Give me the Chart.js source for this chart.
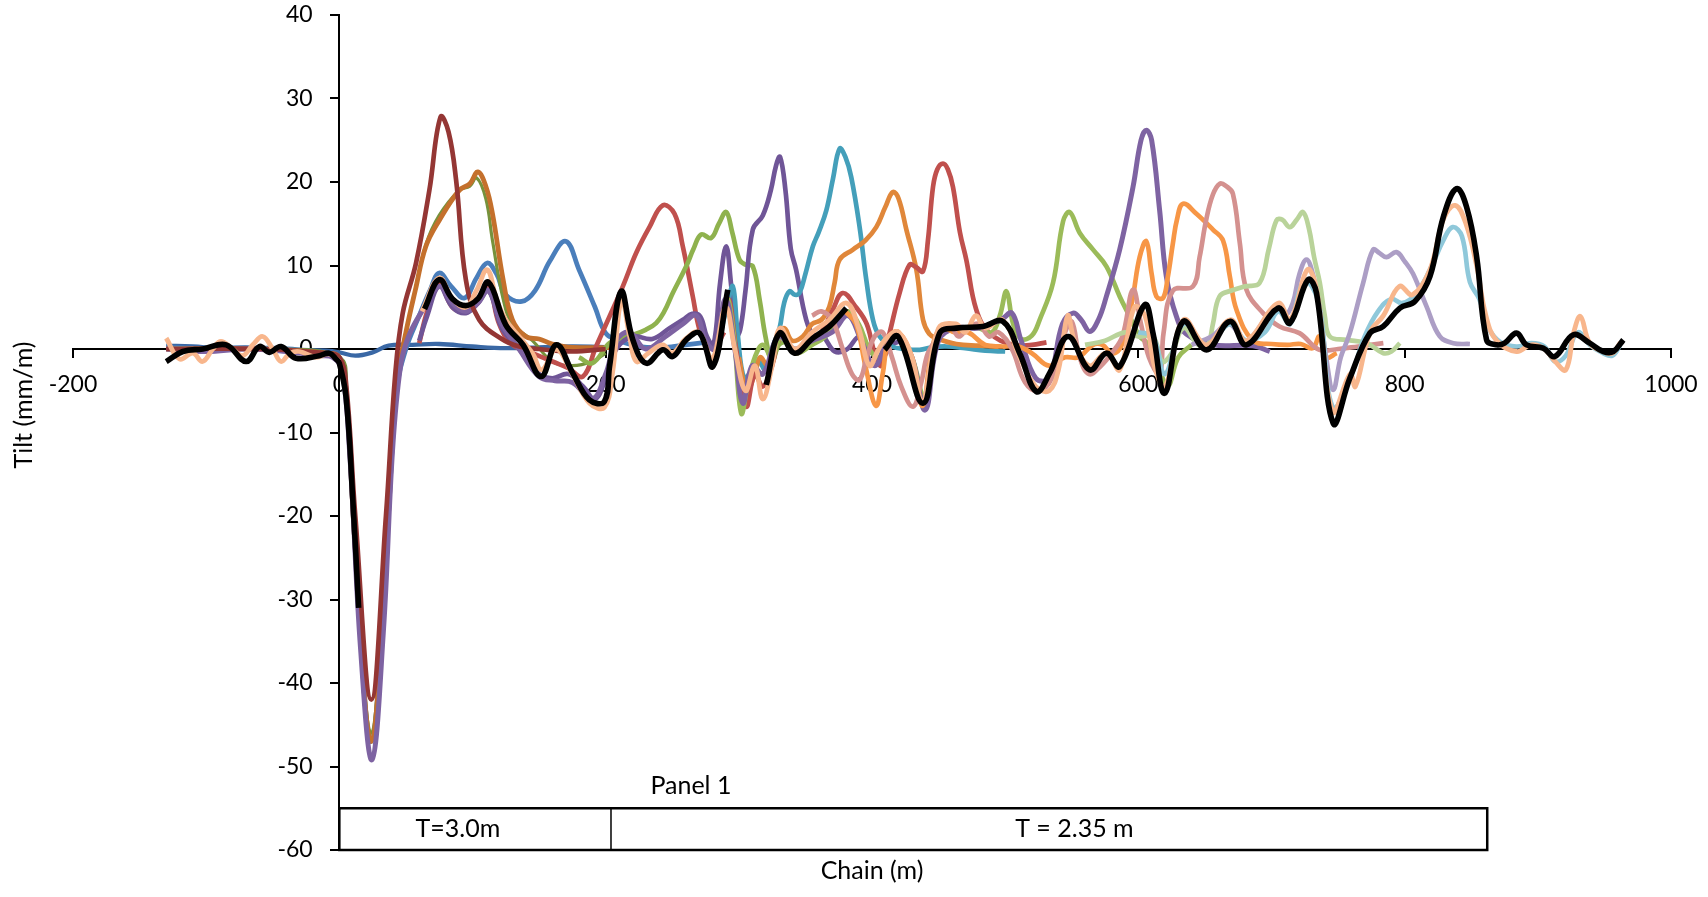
<!DOCTYPE html>
<html>
<head>
<meta charset="utf-8">
<title>Tilt vs chain</title>
<script src="https://cdn.jsdelivr.net/npm/chart.js@4.4.1/dist/chart.umd.min.js"></script>
<style>
  html, body { margin: 0; padding: 0; background: #fff; }
  #wrap { width: 1708px; height: 897px; position: relative; }
</style>
</head>
<body>
<div id="wrap"><canvas id="tiltChart"></canvas></div>
<script>
// axis ticks
const chainTicks = [-200, 0, 200, 400, 600, 800, 1000];
const tiltTicks = [-60, -50, -40, -30, -20, -10, 0, 10, 20, 30, 40];

// [chain (m), tilt (mm/m)], one list per survey line
const darkBlueLine = [[-130,0.4],[-110,0.3],[-90,0.1],[-70,0.2],[-50,0],[-30,-0.1],[-10,-0.2],[0,-0.4],[12,-0.8],[25,-0.4],[37,0.4],[55,0.5],[75,0.6],[100,0.3],[125,0.1],[150,0.2],[175,0.3],[205,0.2]];
const blueLine = [[-130,0.2],[-90,0],[-50,0.1],[-20,-0.3],[0,-1],[5,-5],[12,-24],[24,-47],[36,-22],[43,-5],[50,0],[60,4],[68,7],[75,9.1],[84,7.5],[94,6.1],[103,8.5],[111,10.3],[118,9],[125,6.5],[137,5.7],[147,7],[158,10.5],[170,12.9],[180,9.5],[192,5],[200,1.9],[210,1],[225,0.3],[245,0.2],[260,0.5],[275,0.8]];
const darkGreenLine = [[-130,0],[-60,0],[0,-1],[5,-5],[12,-24],[24,-46],[36,-22],[43,-4],[50,2],[57,7],[65,12.5],[75,16],[90,19],[98,19.5],[103,20.5],[110,18],[115,13],[123,6],[130,3],[145,1],[160,-1.5],[175,-2],[190,-1.5],[200,-0.5]];
const darkOrangeLine = [[-130,0],[-60,0],[-10,-0.5],[0,-1],[5,-5],[12,-24],[24,-47],[36,-22],[43,-4],[50,2],[57,7],[65,12.3],[75,15.4],[90,19],[98,19.8],[104,21.2],[110,19.5],[115,16.2],[123,8.3],[130,3.5],[140,1.5],[150,1.2],[160,0.6],[175,0.2],[210,0.2]];
const redLineA = [[60,0.7],[66,4.5],[75,7.8],[85,5],[95,4.5],[104,5.5],[112,7.5],[120,3],[130,0.5],[145,-0.5],[160,-1.5],[172,-2.3],[182.8,-3.3],[192.8,0.3],[202.9,3.9],[212.9,7.5],[222.9,11.5],[232.9,14.6],[242.9,17.2],[251.7,16.2],[257.9,12.3],[265.4,6.3],[270.5,2.3],[275.5,0.7],[282,0.3],[289,2]];
const greenLineA = [[180,-1],[190,-1.7],[202.9,0.7],[212,1.3],[220.4,1.7],[230,2.3],[237.9,3.1],[244,4.5],[250.4,6.7],[260.5,9.9],[266,12],[271.7,13.7],[279.2,13.3],[285,15],[290.5,16.4],[295,14],[300.5,10.7],[305,10.1],[310.5,9.9],[315.6,5.9],[320,1.5],[325,-1.5],[330,0.5],[336,1]];
const purpleLineA = [[60,1],[66,4],[75,7.5],[85,5],[95,4.3],[104,5.5],[112,7],[122,2.5],[135,0],[150,-3],[160,-3.5],[172,-3],[183,-4.5],[192,-6],[200,-3.5],[208,0],[220,1.5],[235,1.2],[248,2.5],[258,3.5],[265,4.2],[271,3.9],[276,1.5],[281,0.5],[286,8],[290.5,12.3],[294,8],[298,1.5],[301,2.3],[305,7],[310.5,14.3],[318,16],[324,19],[328,22],[331,23],[335,19],[339,12],[343,9.5],[350.6,3.5],[357,1.5],[363,1.5],[372,-0.3],[380.7,-0.1],[390.7,1.5],[398,0],[405.7,-1.3],[415,0.5],[422,1]];
const aquaLine = [[285,1],[291,5],[295.5,7.5],[299,2],[304,-3.5],[310,-2.5],[315,-1.5],[320,-2.5],[326,0.5],[330.6,2.5],[334,5.5],[338,6.9],[342,6.5],[345.5,6.7],[350,9],[355.6,12.3],[360,14],[365.7,16.6],[370.7,20.4],[375.7,24],[380,23],[384.4,20.6],[390.7,14.6],[395.7,8.3],[400.7,3.5],[405.7,1.5],[415,0.3],[425,0],[435.8,-0.1],[445,0.2],[455.8,0.3],[470,0.1],[485,-0.2],[500,-0.3]];
const orangeLineA = [[300,-1],[306,-5],[312,-3],[316,-1],[322,-2],[328,1],[334,2.5],[340,1],[348,1.5],[355,3],[362,3.5],[368,5.1],[372,8],[375.7,10.7],[385.7,11.9],[395,13],[403.2,14.6],[410,17],[415.7,18.8],[420,18],[425.8,14.3],[433.3,9.5],[438.3,3.5],[443,1.8],[448.3,1.3],[463.3,0.6],[480,0.4],[495,0.3]];
const redLineB = [[285,0.5],[292,6],[298,0],[305.5,-6.9],[312,-3],[318,-4.5],[324,-2.5],[332,1.5],[342,-0.5],[352,0.5],[362,2],[370,4.5],[378,6.7],[388,5],[396,3],[402,-0.5],[407,-2],[413.2,1.9],[420.7,6.7],[428.2,10.1],[433,9.8],[438.3,9.3],[442,13],[445.8,19.4],[449,21.5],[453.3,22.2],[457,21.5],[460.8,19.4],[466,14],[470.8,10.7],[478.3,4.7],[488.4,1.9],[505.9,0.5],[520,0.5],[531,0.8]];
const greenLineB = [[285,0.5],[291,6],[296,2],[301.8,-7.7],[307,-4],[312,-1],[318,0.5],[325,-1],[332,1.5],[342,-0.5],[355,0.5],[365,1.5],[375,3.5],[382,4.5],[390,3],[398,0],[405,-1],[412,1],[420,1.5],[430,-1],[440,-6],[450,1.5],[460,2.5],[470,2.5],[480,2.5],[490,2],[496,4],[501,6.9],[506,3],[512,1.2],[520,1.6],[525.9,3.5],[535.9,7.9],[543.5,15.3],[548.5,16.4],[556,13.9],[566,11.9],[576,9.9],[586,6.3],[593.5,3.9],[601,1.5],[608,0.5],[615,-2],[622,-4.5],[630,-1],[640,0.5]];
const purpleLineB = [[-130,0],[-100,-0.3],[-70,0],[-40,-0.3],[-15,-0.8],[-5,-1],[2,-2.5],[8,-13],[16,-36],[24.5,-49.2],[33,-34],[40,-12],[46,-2],[52,1.5],[62,4.5],[75,7.5],[85,5.5],[95,4.5],[104,5.5],[112,7],[122,3],[135,0],[150,-3.3],[162,-3.8],[175,-4],[190,-6],[200,-3],[208,1],[218,2],[230,0],[245,1.5],[258,3],[268,4],[275,1],[282,0],[290,6],[297,0],[303,-6.5],[310,-2],[318,-3],[330,1.5],[342,0],[355,1],[370,2],[382,4],[392,1],[402,-2],[412,1],[420,1.5],[430,-1],[440,-7.3],[450,1],[463,2.5],[480,2.5],[497,3.5],[505,4.3],[512,1],[523,-3.5],[533,-3.5],[543,3],[551,4.3],[557,3.5],[563.5,2.1],[570,3.5],[576,6.3],[586,11.9],[596,19.4],[602,25],[606,26.2],[610,25],[616,16.6],[621,8.7],[628.6,3.9],[636,1.8],[656,0.5],[686,0.4],[698.7,-0.3]];
const darkRedLine = [[-130,0],[-60,0],[-10,-0.5],[0,-1],[5,-4],[12,-20],[24,-42],[35,-20],[42,-3],[47.6,4.3],[57.6,10.3],[67.6,19],[76,27.8],[82,26],[87.7,20.2],[95,8.3],[105,3.5],[122,1.2],[135,0.3],[150,0],[175,-0.3],[200,0]];
const orangeLineB = [[380,4.5],[388,3],[395,-2],[403,-6.8],[408,-3],[413,1.5],[420,2],[430,-1],[438,-6.8],[445,0],[452,2.5],[462,2],[472,2],[485,0.5],[498,0.3],[510,0.3],[520,-0.5],[533,-2],[545,-1],[555,-1],[566,0.5],[573,0.5],[580,-0.5],[586,0],[591,2.3],[596,6.3],[601,11],[606,12.9],[610,9],[613.6,6.3],[618.6,6.1],[622,8.5],[626,12.7],[629,15.5],[633.6,17.4],[643.6,16.2],[656,14.3],[663.6,13],[668.7,8.7],[673.7,4.7],[686,1],[700,0.6],[712,0.5],[722,0.6],[731,0.1],[736,1.5],[741,-1],[749,-0.5]];
const pinkLine = [[355,4],[362,4.5],[370,3.5],[378,0],[385,-3],[390.7,-3.7],[396,-1],[402,1.5],[408,2],[415,-1],[422,-4.5],[430.8,-6.9],[437,-4],[442,-0.5],[450,1.5],[458,3],[465,1.5],[472,2.5],[480,3],[488,1.5],[495,2],[505,0],[515,-4],[525,-5],[535,-3.5],[545,2],[550,3.3],[556,-1],[563,-3],[572,-2],[580,-0.5],[588,1.5],[596,7.1],[602,3],[608,-1],[616,-3],[619,2],[626,7],[641,7.5],[646,11],[651,15.5],[656,18.5],[661.2,19.8],[666,19.5],[671,18.6],[676.2,12.7],[681.2,7.1],[693.7,4.3],[706,2.7],[721,1.9],[736,-0.1],[750,0],[765,0.3],[784,0.7]];
const lightGreenLine = [[560,0.5],[575,1],[590,2],[600,1.5],[611,1.5],[618,-1.5],[625,-0.5],[634,2.5],[645,0.5],[652,0.5],[656,3],[661,6.3],[670,7],[680,7.5],[691,7.9],[698,12],[703.7,15.4],[708,15.5],[713.7,14.6],[719,15.5],[723.7,16.4],[728,14.5],[732,11],[736.3,7.9],[740,4],[743.8,1.5],[756.3,1.1],[771.4,0.7],[784,-0.5],[790,-0.3],[796.4,0.7]];
const lavenderLine = [[640,0.5],[655,1.5],[668,3],[681,1],[695,3.5],[703.7,5],[710,4],[716,5.5],[721,9],[726.3,10.7],[731,9],[736,5],[741,-1],[746.3,-4.9],[752,-1],[758.8,1.9],[768.8,7.9],[776.3,11.9],[781,11.5],[786.3,11],[793.8,11.6],[800,10.5],[806.3,9],[816.4,5.1],[826.4,1.5],[836.5,0.7],[849,0.6]];
const lightAquaLine = [[600,2],[611,1.5],[620,-3],[634,3],[651,0.5],[669,3],[681,1],[695,2],[705,4.5],[714,3],[722,7.5],[728,8],[736,5],[746,-7],[759,-3.5],[770,1.5],[780,4.5],[790,6],[798,5.5],[808,6.5],[819,9.5],[829,13],[836,14.6],[843,13.5],[849,8],[856,6],[863,2.5],[872,0.8],[884,0.3],[895,0.7],[905,0.3],[913,-1.5],[921,-0.8],[930,2],[939,0.5],[949,-0.5],[956,-0.8],[962,0.5]];
const peachLine = [[-130,1.3],[-120,-1.2],[-110,-0.5],[-102.7,-1.5],[-95,0],[-88.9,0.9],[-80,0],[-72.6,-0.8],[-65,0.5],[-57.6,1.5],[-50,0],[-43.8,-1.5],[-37,-0.5],[-30,-0.3],[-17.5,-1],[-8,-0.6],[0,-1.5],[30,null],[62,4.5],[75,8.5],[85,6],[95,5],[103,7],[111,9.5],[118,6],[125,3.5],[135,1.5],[145,-0.5],[152,-2.5],[163,0],[175,-3],[188,-6.5],[199,-7],[205,-3],[212,6],[218,1.5],[223,-1.5],[232,-0.5],[243,0.5],[250,-0.5],[260,1.2],[270,2],[280,-1.2],[290,5],[297,0],[305,-5],[312,-2],[318,-6],[325,-2],[331,2.5],[342,0],[355,2],[368,3.5],[381,5.5],[390,2.5],[398,-2],[405,0],[412,1.5],[420,2],[430,-1],[438,-6.5],[450,2.5],[463,3],[470,2],[478,4],[485,2.5],[498,3.5],[511,-1],[523,-4.5],[533,-5],[540,-2.5],[547,4],[552,1],[563,-2],[576,-0.5],[586,-2.5],[597,5],[605,4],[612,-2],[620,-4.5],[634,3.5],[651,0.5],[669,3.5],[681,1],[705,5.5],[714,3.5],[727,9.5],[734,7],[746,-7.5],[759,-3],[763,-4.5],[774,2],[784,4],[796,7.5],[806,6.5],[819,9.5],[829,15.5],[838,17.2],[846,15],[854,10],[861,4],[869,1],[884,-0.3],[895,0.5],[905,0],[913,-1.5],[921,-2.5],[927,2],[932,3.9],[939,0.7],[949,-0.3],[956,-0.5],[962,0.8]];
const blackLine = [[-130,-1.5],[-117.5,-0.3],[-102.5,0],[-85,0.5],[-70,-1.5],[-60,0.3],[-52.6,-0.4],[-43.8,0.3],[-32.6,-1.1],[-15,-0.8],[-7.5,-0.5],[-2.5,-1.2],[0,-1.7],[5,-5.7],[10,-17.7],[14.5,-31],[40,null],[64,4.8],[75,8.3],[85,6],[95,5.2],[104,6],[112,8],[125,2.9],[138,0.5],[151.5,-3.3],[163,0.5],[175.3,-2.9],[187.8,-6.1],[199,-6.3],[202.9,-2.1],[211.6,6.9],[220.4,1.1],[230.4,-1.7],[242.9,-0.1],[250.4,-0.9],[260.5,1.1],[270.5,1.9],[280.5,-2.1],[291.7,7.1],[305,null],[320.6,-4.3],[330.6,1.9],[341.9,-0.5],[355.6,1.3],[368.1,2.7],[380.7,4.9],[395,null],[409.5,-0.1],[419.5,1.5],[438.3,-6.5],[450.8,1.9],[463.3,2.5],[483.3,2.7],[498.4,3.3],[510.9,-0.5],[523.4,-5.1],[533.4,-2.9],[547.2,1.5],[563.5,-2.5],[576,-0.5],[586,-2.1],[604.8,5.3],[611,1.9],[619.8,-5.3],[633.6,3.3],[651.2,-0.1],[668.7,3.3],[681.2,0.5],[705,4.9],[713.8,3.1],[727.5,8.3],[733.8,6.7],[746.3,-8.9],[758.8,-3.5],[773.9,1.9],[783.9,2.7],[796.4,4.9],[807.7,5.7],[819,8.7],[829,15.8],[839,19.2],[846.5,17],[854,11.1],[861.5,1.1],[869,0.5],[875,0.7],[884,1.9],[891.5,0.5],[904,0.1],[912.8,-0.9],[926.6,1.7],[939,0.7],[949.2,-0.3],[956.7,-0.3],[964.2,1.1]];

// drawn bottom to top
const lines = [
  { data: darkBlueLine, color: '#3A68A5', width: 4.3 },
  { data: blueLine, color: '#4A7EBB', width: 4.7 },
  { data: darkGreenLine, color: '#76923C', width: 3.2 },
  { data: darkOrangeLine, color: '#C4702C', width: 4.8 },
  { data: redLineA, color: '#C0504D', width: 4.7 },
  { data: greenLineA, color: '#8FB24E', width: 4.7 },
  { data: purpleLineA, color: '#6F5597', width: 4.7 },
  { data: aquaLine, color: '#449FBA', width: 4.7 },
  { data: orangeLineA, color: '#E0873A', width: 4.7 },
  { data: redLineB, color: '#C0504D', width: 4.7 },
  { data: greenLineB, color: '#9BBB59', width: 4.7 },
  { data: purpleLineB, color: '#7E63A2', width: 5 },
  { data: darkRedLine, color: '#943634', width: 4.7 },
  { data: orangeLineB, color: '#F79646', width: 4.7 },
  { data: pinkLine, color: '#D4918F', width: 4.7 },
  { data: lightGreenLine, color: '#B9D39A', width: 4.7 },
  { data: lavenderLine, color: '#AC9EC5', width: 4.7 },
  { data: lightAquaLine, color: '#8FC8DA', width: 4.7 },
  { data: peachLine, color: '#F8B68C', width: 4.8 },
  { data: blackLine, color: '#000000', width: 5.6 }
];

const FONT = 'Lato, "Open Sans", sans-serif';

const datasets = lines.map((l, i) => ({
  data: l.data.map(([x, y]) => ({ x: x, y: y })),
  borderColor: l.color,
  borderWidth: l.width,
  showLine: true,
  pointRadius: 0,
  pointHoverRadius: 0,
  tension: 0.4,
  fill: false,
  spanGaps: false,
  order: lines.length - i
}));

// panel box, labels and axis titles drawn in data coordinates
const panelNotes = {
  id: 'panelNotes',
  afterDraw(chart) {
    const { ctx, scales: { x, y }, chartArea } = chart;
    ctx.save();
    ctx.strokeStyle = '#000';
    ctx.lineWidth = 2.5;
    const left = x.getPixelForValue(0), right = x.getPixelForValue(862);
    const top = y.getPixelForValue(-55), bottom = y.getPixelForValue(-60);
    ctx.strokeRect(left, top, right - left, bottom - top);
    ctx.lineWidth = 1.5;
    ctx.beginPath();
    ctx.moveTo(x.getPixelForValue(204), top);
    ctx.lineTo(x.getPixelForValue(204), bottom);
    ctx.stroke();

    ctx.fillStyle = '#000';
    ctx.font = '25px ' + FONT;
    ctx.textAlign = 'center';
    ctx.textBaseline = 'middle';
    ctx.fillText('Panel 1', x.getPixelForValue(264), y.getPixelForValue(-52.3));
    ctx.fillText('T=3.0m', x.getPixelForValue(89), y.getPixelForValue(-57.5));
    ctx.fillText('T = 2.35 m', x.getPixelForValue(552), y.getPixelForValue(-57.5));

    ctx.fillText('Chain (m)', (chartArea.left + chartArea.right) / 2, 871);
    ctx.translate(24, 405);
    ctx.rotate(-Math.PI / 2);
    ctx.fillText('Tilt (mm/m)', 0, 0);
    ctx.restore();
  }
};

// axes placed at a value still reserve label room; let the layout padding decide the plot area
const noScalePadding = s => {
  s.paddingTop = 0; s.paddingBottom = 0; s.paddingLeft = 0; s.paddingRight = 0;
};

const ctx = document.getElementById('tiltChart').getContext('2d');
new Chart(ctx, {
  type: 'scatter',
  data: { datasets: datasets },
  options: {
    responsive: true,
    maintainAspectRatio: false,
    animation: false,
    layout: { padding: { left: 73, right: 37, top: 15, bottom: 47 } },
    plugins: {
      legend: { display: false },
      tooltip: { enabled: false }
    },
    scales: {
      x: {
        type: 'linear',
        min: chainTicks[0],
        max: chainTicks[chainTicks.length - 1],
        position: { y: 0 },
        afterBuildTicks: s => { s.ticks = chainTicks.map(v => ({ value: v })); },
        afterFit: noScalePadding,
        ticks: { color: '#000', font: { family: FONT, size: 23 }, padding: 14, maxRotation: 0,
                 callback: v => String(v) },
        grid: { drawOnChartArea: false, drawTicks: true, tickLength: 8, color: '#000', lineWidth: 2 },
        border: { display: true, color: '#000', width: 2 }
      },
      y: {
        type: 'linear',
        min: tiltTicks[0],
        max: tiltTicks[tiltTicks.length - 1],
        position: { x: 0 },
        afterBuildTicks: s => { s.ticks = tiltTicks.map(v => ({ value: v })); },
        afterFit: noScalePadding,
        // labels sit right-aligned on the axis line when it is placed at a value, so pad them
        ticks: { color: '#000', font: { family: FONT, size: 23 }, padding: 14,
                 callback: v => String(v) + '\u2007\u2007' },
        grid: { drawOnChartArea: false, drawTicks: true, tickLength: 8, color: '#000', lineWidth: 2 },
        border: { display: true, color: '#000', width: 2 }
      }
    }
  },
  plugins: [panelNotes]
});
</script>
</body>
</html>
